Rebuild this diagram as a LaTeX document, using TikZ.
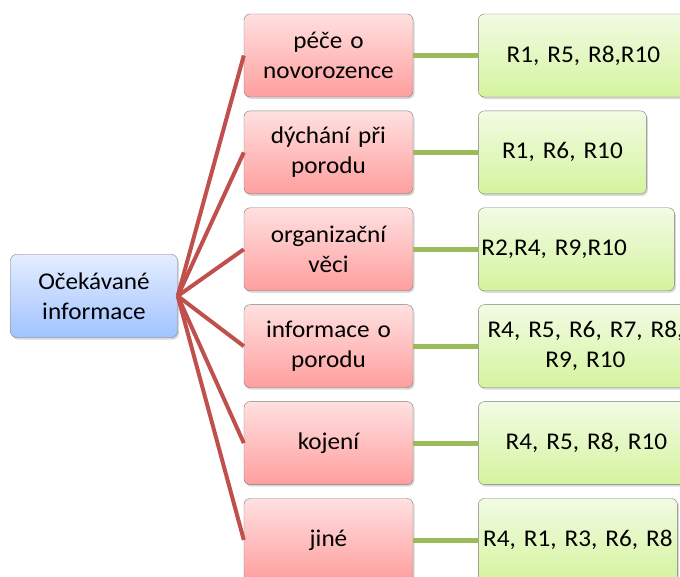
\documentclass[tikz,border=0pt]{standalone}
\usepackage{fontspec}
\setmainfont{Carlito}[FakeStretch=1.05,WordSpace=0.8]
\usetikzlibrary{positioning,shadows}

\definecolor{boxgray}{RGB}{125,125,125}
\definecolor{redtop}{RGB}{255,224,224}
\definecolor{redbot}{RGB}{255,158,158}
\definecolor{greentop}{RGB}{242,251,228}
\definecolor{greenbot}{RGB}{212,244,158}
\definecolor{bluetop}{RGB}{228,237,255}
\definecolor{bluebot}{RGB}{160,195,255}
\definecolor{redline}{RGB}{192,80,77}
\definecolor{greenline}{RGB}{155,187,89}

\begin{document}
\begin{tikzpicture}[x=1pt,y=1pt,node distance=13.5pt,
    box/.style={draw=boxgray,rounded corners=6pt,minimum height=83pt,
        inner sep=5pt,align=center,font=\fontsize{24}{30}\selectfont,
        drop shadow={opacity=0.3,shadow xshift=1.5pt,shadow yshift=-2pt}},
    root/.style={box,top color=bluetop,bottom color=bluebot,text width=157pt},
    topic/.style={box,top color=redtop,bottom color=redbot,text width=159pt},
    refs/.style={box,top color=greentop,bottom color=greenbot},
    redlink/.style={draw=redline,line width=4pt},
    greenlink/.style={draw=greenline,line width=5pt}]
    \useasboundingbox (0,0) rectangle (680,-577);

    \node[root] (info) at (94,-296) {Očekávané\\informace};

    \node[topic] (t_1) at (328.5,-55.5) {péče o\\novorozence};
    \node[topic] (t_2) [below=of t_1] {dýchání při\\porodu};
    \node[topic] (t_3) [below=of t_2] {organizační\\věci};
    \node[topic] (t_4) [below=of t_3] {informace o\\porodu};
    \node[topic] (t_5) [below=of t_4] {kojení};
    \node[topic] (t_6) [below=of t_5] {jiné};

    \node[refs,text width=200pt] (g_1) [right=65pt of t_1] {R1, R5, R8,R10};
    \node[refs,text width=158pt] (g_2) [right=65pt of t_2] {R1, R6, R10};
    \node[refs,text width=190pt,align=left,inner sep=3pt] (g_3) [right=65pt of t_3] {R2,R4, R9,R10};
    \node[refs,text width=206pt,inner sep=4pt] (g_4) [right=65pt of t_4] {R4, R5, R6, R7, R8,\\R9, R10};
    \node[refs,text width=206pt] (g_5) [right=65pt of t_5] {R4, R5, R8, R10};
    \node[refs,text width=191pt,inner sep=4pt] (g_6) [right=65pt of t_6] {\mbox{R4, R1, R3, R6, R8}};

    \foreach \i in {1,...,6} {
        \path[redlink] (info.east) -- (t_\i.west);
        \path[greenlink] (t_\i.east) -- (g_\i.west);
    }
\end{tikzpicture}
\end{document}
